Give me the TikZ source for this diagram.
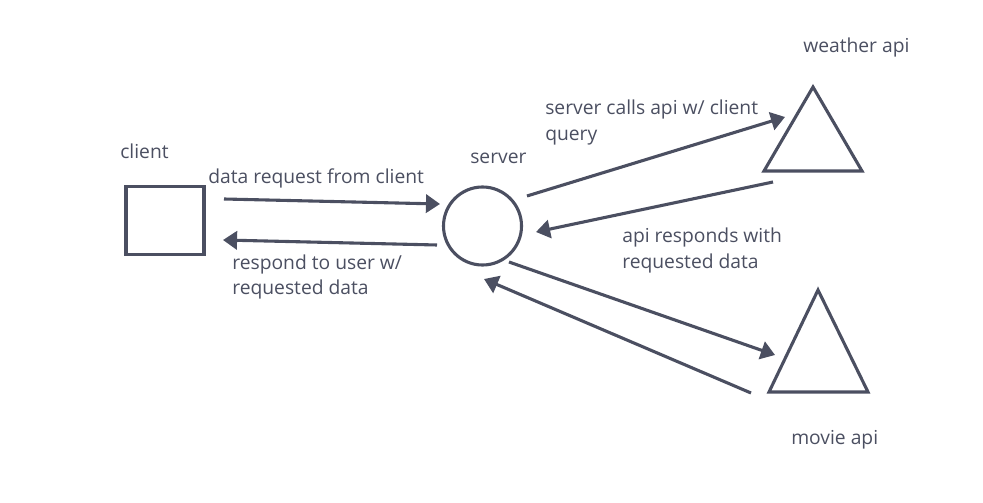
\documentclass[tikz,border=0pt]{standalone}
\usepackage{fontspec}
\setmainfont{Open Sans}
\usetikzlibrary{arrows.meta}
\definecolor{ink}{RGB}{75,79,97}

\begin{document}
\begin{tikzpicture}[x=0.025cm, y=-0.025cm,
    every node/.style={text=ink, font=\fontsize{13.7}{18.4}\selectfont},
    label/.style={anchor=west, inner sep=0pt, align=left},
    box/.style={draw=ink, line width=2.2pt, rectangle, minimum width=1.95cm, minimum height=1.72cm, inner sep=0pt},
    srv/.style={draw=ink, line width=2.2pt, circle, minimum size=1.95cm, inner sep=0pt},
    tri/.style={draw=ink, line width=2.2pt},
    flow/.style={draw=ink, line width=2.2pt, -{Triangle[length=10pt,width=13pt]}}]
    \useasboundingbox (0,0) rectangle (983,503);

    % nodes
    \node[box] (client) at (165,220.5) {};
    \node[srv] (server) at (482.5,226) {};
    \draw[tri] (813,87) -- (862,171) -- (764,171) -- cycle;
    \coordinate (weather) at (813,143);
    \draw[tri] (818,290) -- (868,392) -- (769,392) -- cycle;
    \coordinate (movie) at (818,358);

    % labels
    \node[label] (clientlbl) at (120,151) {client};
    \node[label] (serverlbl) at (470,158) {server};
    \node[label] (weatherlbl) at (803,48) {weather api};
    \node[label] (movielbl) at (791,440) {movie api};
    \node[label] (reqlbl) at (208,178) {data request from client};
    \node[label] (resplbl) at (232,277) {respond to user w/\\requested data};
    \node[label] (calllbl) at (545,122.5) {server calls api w/ client\\query};
    \node[label] (apilbl) at (622,250.5) {api responds with\\requested data};

    % arrow ends
    \coordinate (c1) at (224,199);
    \coordinate (s1) at (440,204);
    \coordinate (s2) at (437,245);
    \coordinate (c2) at (223,240);
    \coordinate (s3) at (527,196);
    \coordinate (w1) at (785,117);
    \coordinate (w2) at (773,182);
    \coordinate (s4) at (536,232);
    \coordinate (s5) at (509,262);
    \coordinate (m1) at (775,355);
    \coordinate (m2) at (751,393);
    \coordinate (s6) at (484,279);

    \draw[flow] (c1) -- (s1);
    \draw[flow] (s2) -- (c2);
    \draw[flow] (s3) -- (w1);
    \draw[flow] (w2) -- (s4);
    \draw[flow] (s5) -- (m1);
    \draw[flow] (m2) -- (s6);
\end{tikzpicture}
\end{document}
